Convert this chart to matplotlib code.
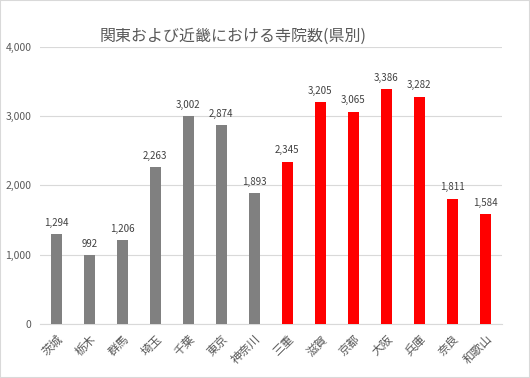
import matplotlib.pyplot as plt
import numpy as np

plt.rcParams['font.family'] = ['Noto Sans CJK JP', 'DejaVu Sans']

prefs = ['茨城', '栃木', '群馬', '埼玉', '千葉', '東京', '神奈川',
         '三重', '滋賀', '京都', '大阪', '兵庫', '奈良', '和歌山']
temples = [1294, 992, 1206, 2263, 3002, 2874, 1893,
           2345, 3205, 3065, 3386, 3282, 1811, 1584]
colors = ['#808080'] * 7 + ['#ff0000'] * 7

fig = plt.figure(figsize=(5.3, 3.78), dpi=100)
fig.patches.append(plt.Rectangle((0, 0), 1, 1, transform=fig.transFigure,
                                 fill=False, edgecolor='#d9d9d9', lw=1.5))
ax = fig.add_axes([0.075, 0.143, 0.872, 0.733])

x = np.arange(len(prefs))
bars = ax.bar(x, temples, width=0.34, color=colors, zorder=3)
for b, v in zip(bars, temples):
    ax.text(b.get_x() + b.get_width() / 2, v + 90, f'{v:,}',
            ha='center', va='bottom', fontsize=7, color='#404040')

ax.set_ylim(0, 4000)
ax.set_xlim(-0.5, len(prefs) - 0.5)
ax.set_yticks(range(0, 4001, 1000))
ax.set_yticklabels([f'{t:,}' for t in range(0, 4001, 1000)])
ax.yaxis.grid(True, color='#d9d9d9', lw=0.8, zorder=0)
ax.set_xticks(x)
ax.set_xticklabels(prefs, rotation=45, ha='right', rotation_mode='anchor',
                   fontsize=8.5)
ax.tick_params(axis='both', length=0, colors='#595959')
ax.tick_params(axis='y', pad=6, labelsize=7.5)
ax.tick_params(axis='x', pad=6)
for s in ['top', 'right', 'left']:
    ax.spines[s].set_visible(False)
ax.spines['bottom'].set_color('#d9d9d9')

fig.text(0.44, 0.905, '関東および近畿における寺院数(県別)', ha='center', va='center',
         fontsize=11.5, color='#595959')

fig.savefig('out.png', dpi=100)
